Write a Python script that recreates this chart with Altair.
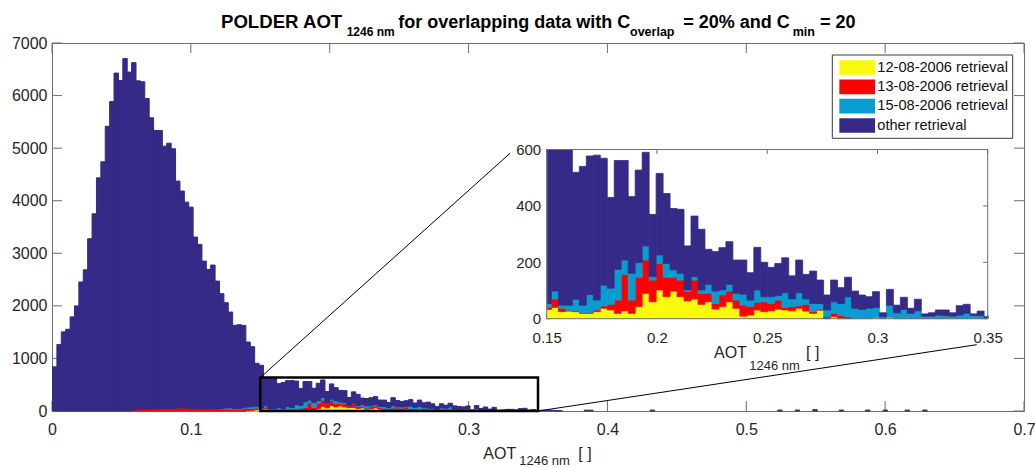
import altair as alt
import numpy as np
import pandas as pd

FONT = "Liberation Sans"
LABEL_COLOR = "#262626"
AXIS_COLOR = "#6e6e6e"

SERIES = ["12-08-2006 retrieval", "13-08-2006 retrieval", "15-08-2006 retrieval", "other retrieval"]
COLORS = ["#F9FB0E", "#FF0000", "#079DD0", "#352A87"]

# histogram bins of AOT (bin k covers [k*w, (k+1)*w])
BIN_WIDTH = 0.003165

# counts per bin, "other retrieval", bins 0..115
OTHER_START = 0
OTHER = [840, 1266, 1505, 1555, 1790, 2000, 2455, 2685, 3277, 3750,
         4435, 4740, 5415, 5885, 6428, 6286, 6704, 6447, 6605, 6245,
         6223, 5908, 5537, 5291, 5296, 4993, 5055, 4942, 4318, 4123,
         3918, 3828, 3263, 3129, 2807, 2653, 2731, 2431, 2186, 2000,
         1822, 1584, 1596, 1569, 1234, 1143, 816,
         816, 542, 577, 592, 450, 492, 491, 514, 450, 322,
         386, 353, 272, 328, 332, 221, 289, 248, 218, 227,
         156, 215, 215, 124, 140, 150, 151, 118, 121, 97,
         151, 122, 104, 114, 124, 82, 116, 87, 115, 83,
         53, 77, 56, 69, 61, 51, 41, 56, 14, 56,
         27, 43, 18, 41, 8, 12, 18, 20, 12, 33,
         32, 6, 16, 2,
         10, 9, 12, 8, 5]
# sparse far tail of "other retrieval"
OTHER_TAIL_BINS = [121, 122, 136, 165, 169, 173, 179, 185, 189, 194, 198]
OTHER_TAIL = [16, 16, 18, 18, 18, 25, 18, 18, 18, 18, 18]

YELLOW_START = 44
YELLOW = [8, 15, 25,
          33, 40, 25, 27, 25, 19, 19, 25, 37, 31,
          19, 28, 19, 43, 90, 60, 102, 78, 98, 78,
          63, 70, 51, 60, 34, 43, 60, 37, 9, 13,
          31, 25, 28, 34, 31, 28, 37, 27, 19, 30,
          0, 7, 0, 0, 0, 0, 0, 4, 0, 5]

RED_START = 18
RED = [20, 35, 40, 35, 40, 45, 40, 45, 40, 45, 55, 60, 55, 50, 45, 40, 45, 40, 45, 40,
       35, 40, 35, 30, 35, 40, 45, 35, 30,
       7, 30, 12, 3, 3, 3, 3, 6, 8, 20,
       47, 129, 47, 104, 118, 77, 94, 69, 49, 59,
       33, 67, 39, 30, 20, 41, 38, 29, 39, 30,
       27, 35, 26, 32, 9, 15, 9, 24, 6, 3,
       7, 12, 11, 7]

CYAN_START = 38
CYAN = [10, 20, 25, 15, 10, 20, 25, 30, 35,
        14, 28, 11, 18, 41, 26, 64, 35, 74, 57,
        109, 51, 95, 52, 50, 12, 30, 49, 26, 24,
        6, 12, 12, 32, 44, 18, 24, 24, 39, 23,
        44, 18, 24, 16, 52, 27, 46, 19, 29, 21,
        24, 41, 43, 71, 37, 33, 37, 36, 7, 43,
        21, 33, 19, 28, 9, 9, 13, 11, 9, 13,
        19, 11, 11, 5,
        5, 3, 3]

MAIN_X_TICKS = [0, 0.1, 0.2, 0.3, 0.4, 0.5, 0.6, 0.7]
MAIN_Y_TICKS = [0, 1000, 2000, 3000, 4000, 5000, 6000, 7000]
INSET_X_TICKS = [0.15, 0.2, 0.25, 0.3, 0.35]
INSET_Y_TICKS = [0, 200, 400, 600]
ZOOM_X = [0.15, 0.35]
ZOOM_Y_TOP = 635

# ---------------- layout (pixels) ----------------
W, H = 972, 368
PAD = {"left": 52, "top": 43, "right": 11, "bottom": 56}
X_MAX, Y_MAX = 0.7, 7000
IN_L, IN_R, IN_T, IN_B = 494.7, 935.7, 106.5, 275.7
MAIN_TICK, INSET_TICK = 10, 4.5


def frame(values, start, name):
    return pd.DataFrame({"bin": np.arange(start, start + len(values)), "count": values, "series": name})


hist = pd.concat([
    frame(YELLOW, YELLOW_START, SERIES[0]),
    frame(RED, RED_START, SERIES[1]),
    frame(CYAN, CYAN_START, SERIES[2]),
    frame(OTHER, OTHER_START, SERIES[3]),
    pd.DataFrame({"bin": OTHER_TAIL_BINS, "count": OTHER_TAIL, "series": SERIES[3]}),
], ignore_index=True)
hist["x0"] = hist["bin"] * BIN_WIDTH
hist["x1"] = (hist["bin"] + 1) * BIN_WIDTH
hist["ord"] = hist["series"].map({s: i for i, s in enumerate(SERIES)})
hist = hist[hist["count"] > 0]

inset_hist = hist[(hist["x1"] > ZOOM_X[0]) & (hist["x0"] < ZOOM_X[1])]

color_scale = alt.Scale(domain=SERIES, range=COLORS)
color = alt.Color("series:N", scale=color_scale, legend=None)
stroke = alt.Stroke("series:N", scale=color_scale, legend=None)

# ---------------- main panel ----------------
x_main = alt.Scale(domain=[0, X_MAX], nice=False, zero=False)
y_main = alt.Scale(domain=[0, Y_MAX], nice=False)

main_x_axis = alt.Axis(values=MAIN_X_TICKS, format="~g", ticks=False, tickSize=0, domain=False,
                       grid=False, labelFont=FONT, labelFontSize=16, labelColor=LABEL_COLOR,
                       labelPadding=10, labelFlush=False, labelOverlap=False, orient="bottom")
main_y_axis = alt.Axis(values=MAIN_Y_TICKS, format="d", ticks=False, tickSize=0, domain=False,
                       grid=False, labelFont=FONT, labelFontSize=16, labelColor=LABEL_COLOR,
                       labelPadding=5, labelOverlap=False, orient="left")

xt = pd.DataFrame({"t": MAIN_X_TICKS})
yt = pd.DataFrame({"t": MAIN_Y_TICKS})
tick_b = alt.Chart(xt).mark_rule(color=AXIS_COLOR, strokeWidth=1).encode(
    x=alt.X("t:Q", scale=x_main, title=None), y=alt.value(H), y2=alt.value(H - MAIN_TICK))
tick_t = alt.Chart(xt).mark_rule(color=AXIS_COLOR, strokeWidth=1).encode(
    x=alt.X("t:Q", scale=x_main, title=None), y=alt.value(0), y2=alt.value(MAIN_TICK))
tick_l = alt.Chart(yt).mark_rule(color=AXIS_COLOR, strokeWidth=1).encode(
    y=alt.Y("t:Q", scale=y_main, title=None), x=alt.value(0), x2=alt.value(MAIN_TICK))
tick_r = alt.Chart(yt).mark_rule(color=AXIS_COLOR, strokeWidth=1).encode(
    y=alt.Y("t:Q", scale=y_main, title=None), x=alt.value(W), x2=alt.value(W - MAIN_TICK))

bars_main = alt.Chart(hist).mark_bar(binSpacing=0, strokeWidth=1).encode(
    x=alt.X("x0:Q", bin="binned", scale=x_main, axis=main_x_axis, title=None),
    x2="x1:Q",
    y=alt.Y("count:Q", stack="zero", scale=y_main, axis=main_y_axis, title=None),
    color=color,
    stroke=stroke,
    order=alt.Order("ord:Q"),
)

box_df = pd.DataFrame({"x0": [ZOOM_X[0]], "x1": [ZOOM_X[1]], "y0": [0], "y1": [ZOOM_Y_TOP]})
zoom_box = alt.Chart(box_df).mark_rect(fillOpacity=0, stroke="black", strokeWidth=2.5).encode(
    x=alt.X("x0:Q", scale=x_main, title=None), x2="x1:Q",
    y=alt.Y("y0:Q", scale=y_main, title=None), y2="y1:Q")


def px_to_main(px, py):
    return px / W * X_MAX, (H - py) / H * Y_MAX


e1 = px_to_main(458.0, 110.3)
e2 = px_to_main(924.7, 301.7)
conn_df = pd.DataFrame({"x": [ZOOM_X[0], ZOOM_X[1]], "y": [ZOOM_Y_TOP, 0],
                        "xe": [e1[0], e2[0]], "ye": [e1[1], e2[1]]})
connectors = alt.Chart(conn_df).mark_rule(color="black", strokeWidth=1).encode(
    x=alt.X("x:Q", scale=x_main, title=None), x2="xe:Q",
    y=alt.Y("y:Q", scale=y_main, title=None), y2="ye:Q")

main = alt.layer(tick_b, tick_t, tick_l, tick_r, bars_main, zoom_box, connectors)

# ---------------- inset panel ----------------
x_in = alt.Scale(domain=ZOOM_X, range=[IN_L, IN_R], nice=False, zero=False, clamp=True)
y_in = alt.Scale(domain=[0, 600], range=[IN_B, IN_T], nice=False, clamp=True)

in_x_axis = alt.Axis(values=INSET_X_TICKS, format="~g", ticks=False, tickSize=0, domain=False,
                     grid=False, labelFont=FONT, labelFontSize=15, labelColor=LABEL_COLOR,
                     labelPadding=12, labelFlush=False, labelOverlap=False, orient="bottom",
                     offset=-(H - IN_B))
in_y_axis = alt.Axis(values=INSET_Y_TICKS, format="d", ticks=False, tickSize=0, domain=False,
                     grid=False, labelFont=FONT, labelFontSize=15, labelColor=LABEL_COLOR,
                     labelPadding=6, labelOverlap=False, orient="left", offset=-IN_L)

ixt = pd.DataFrame({"t": INSET_X_TICKS})
iyt = pd.DataFrame({"t": INSET_Y_TICKS})
itick_b = alt.Chart(ixt).mark_rule(color=AXIS_COLOR, strokeWidth=1).encode(
    x=alt.X("t:Q", scale=x_in, title=None), y=alt.value(IN_B), y2=alt.value(IN_B - INSET_TICK))
itick_t = alt.Chart(ixt).mark_rule(color=AXIS_COLOR, strokeWidth=1).encode(
    x=alt.X("t:Q", scale=x_in, title=None), y=alt.value(IN_T), y2=alt.value(IN_T + INSET_TICK))
itick_l = alt.Chart(iyt).mark_rule(color=AXIS_COLOR, strokeWidth=1).encode(
    y=alt.Y("t:Q", scale=y_in, title=None), x=alt.value(IN_L), x2=alt.value(IN_L + INSET_TICK))
itick_r = alt.Chart(iyt).mark_rule(color=AXIS_COLOR, strokeWidth=1).encode(
    y=alt.Y("t:Q", scale=y_in, title=None), x=alt.value(IN_R), x2=alt.value(IN_R - INSET_TICK))

bars_in = alt.Chart(inset_hist).mark_bar(binSpacing=0, strokeWidth=0.8).encode(
    x=alt.X("x0:Q", bin="binned", scale=x_in, axis=in_x_axis, title=None),
    x2="x1:Q",
    y=alt.Y("count:Q", stack="zero", scale=y_in, axis=in_y_axis, title=None),
    color=color,
    stroke=stroke,
    order=alt.Order("ord:Q"),
)

iframe_df = pd.DataFrame({"x0": [ZOOM_X[0]], "x1": [ZOOM_X[1]], "y0": [0], "y1": [600]})
inset_frame = alt.Chart(iframe_df).mark_rect(fillOpacity=0, stroke=AXIS_COLOR, strokeWidth=1).encode(
    x=alt.X("x0:Q", scale=x_in, title=None), x2="x1:Q",
    y=alt.Y("y0:Q", scale=y_in, title=None), y2="y1:Q")

inset = alt.layer(itick_b, itick_t, itick_l, itick_r, bars_in, inset_frame)

# ---------------- legend ----------------
LEG_BOX = (780.3, 960.7, 12.0, 95.3)
SW_W, SW_H = 35.7, 14.7
SW_X, TXT_X = 805.2, 825.3
ROWS = [24.5, 82.5]
swatch_path = "M-1,{a}L1,{a}L1,{b}L-1,{b}Z".format(a=-SW_H / SW_W, b=SW_H / SW_W)

leg_df = pd.DataFrame({"series": SERIES})
leg_y = alt.Y("series:N", scale=alt.Scale(type="point", domain=SERIES, range=ROWS, padding=0),
              axis=None, title=None)
leg_box = alt.Chart(pd.DataFrame({"k": [0]})).mark_rect(fill="white", stroke="#3a3a3a", strokeWidth=1).encode(
    x=alt.value(LEG_BOX[0]), x2=alt.value(LEG_BOX[1]), y=alt.value(LEG_BOX[2]), y2=alt.value(LEG_BOX[3]))
leg_sw = alt.Chart(leg_df).mark_point(shape=swatch_path, filled=True, opacity=1, size=SW_W ** 2,
                                      strokeWidth=0).encode(x=alt.value(SW_X), y=leg_y, color=color)
leg_txt = alt.Chart(leg_df).mark_text(align="left", baseline="middle", font=FONT, fontSize=14.6,
                                      color="#111111").encode(x=alt.value(TXT_X), y=leg_y, text="series:N")
legend = alt.layer(leg_box, leg_sw, leg_txt)

# ---------------- titles with subscripts ----------------
def texts(rows):
    return pd.DataFrame(rows, columns=["text", "px", "py", "fs"]).assign(
        px=lambda d: d["px"] - PAD["left"], py=lambda d: d["py"] - PAD["top"])


title_df = texts([
    ("POLDER AOT", 221.0, 28.3, 18.6),
    ("1246 nm", 346.7, 36.0, 12),
    ("for overlapping data with C", 398.3, 28.3, 18),
    ("overlap", 630.0, 36.0, 12.5),
    ("= 20% and C", 683.3, 28.3, 18),
    ("min", 792.7, 36.0, 12.5),
    ("= 20", 820.0, 28.3, 18),
])
axis_title_df = texts([
    ("AOT", 483.3, 459.3, 16),
    ("1246 nm", 519.3, 464.8, 13),
    ("[ ]", 578.3, 459.3, 16),
    ("AOT", 714.0, 358.0, 16),
    ("1246 nm", 749.3, 369.7, 13),
    ("[ ]", 806.0, 358.0, 16),
])

title_layer = alt.Chart(title_df).mark_text(align="left", baseline="alphabetic", font=FONT,
                                            fontWeight="bold", color="black").encode(
    x=alt.X("px:Q", scale=None, axis=None), y=alt.Y("py:Q", scale=None, axis=None),
    text="text:N", size=alt.Size("fs:Q", scale=None, legend=None))
axis_title_layer = alt.Chart(axis_title_df).mark_text(align="left", baseline="alphabetic", font=FONT,
                                                      color=LABEL_COLOR).encode(
    x=alt.X("px:Q", scale=None, axis=None), y=alt.Y("py:Q", scale=None, axis=None),
    text="text:N", size=alt.Size("fs:Q", scale=None, legend=None))

chart = alt.layer(main, inset, legend, title_layer, axis_title_layer).resolve_scale(
    x="independent", y="independent", size="independent"
).properties(
    width=W, height=H, padding=PAD, autosize=alt.AutoSizeParams(type="none"),
    background="white",
).configure_view(stroke=AXIS_COLOR, strokeWidth=1)

chart.save("out.html", embed_options={"renderer": "svg", "actions": False})
